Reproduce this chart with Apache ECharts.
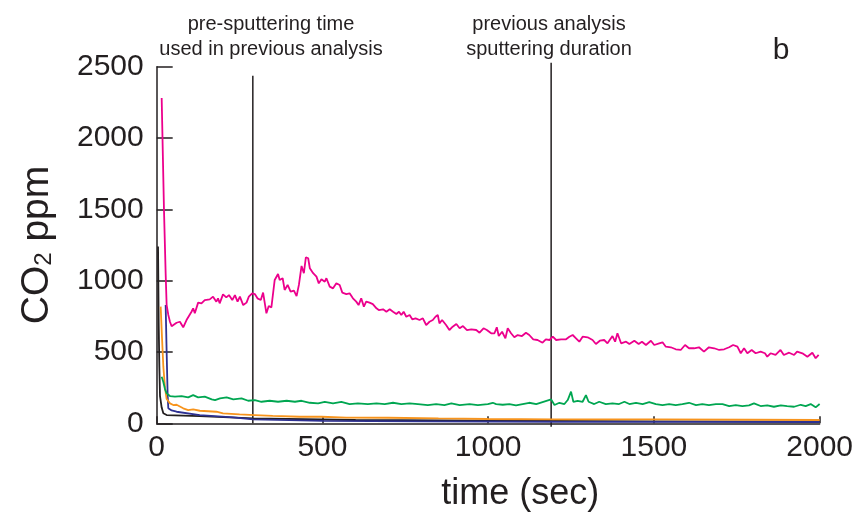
<!DOCTYPE html>
<html>
<head>
<meta charset="utf-8">
<script src="https://cdn.jsdelivr.net/npm/echarts@6/dist/echarts.min.js"></script>
<style>html,body{margin:0;padding:0;background:#fff}#c{width:856px;height:519px}</style>
</head>
<body>
<div id="c"></div>
<script>
const xTicks = [0, 500, 1000, 1500, 2000];
const yTicks = [0, 500, 1000, 1500, 2000, 2500];
const markerTimes = [290, 1190];
const markerTops = [2437, 2527];
const markerBottoms = [0, -24];
const annotations = ['pre-sputtering time\nused in previous analysis', 'previous analysis\nsputtering duration'];
const panelLabel = 'b';

const magenta = [[15,2280],[22,1494],[27,1050],[30,829],[35,760],[40,712],[45,680],[50,677],[60,705],[70,712],[80,673],[90,724],[105,782],[110,806],[115,771],[125,846],[135,841],[145,864],[160,869],[170,888],[180,853],[185,876],[190,841],[200,904],[210,883],[218,899],[228,864],[236,899],[244,853],[251,888],[261,829],[271,846],[278,888],[288,911],[296,906],[304,876],[314,864],[321,916],[331,771],[338,822],[346,813],[356,1005],[366,1047],[371,1005],[380,1017],[386,935],[395,970],[404,923],[414,930],[422,892],[429,970],[437,1103],[444,1052],[450,1164],[457,1157],[462,1087],[472,1052],[482,1028],[489,981],[497,1010],[507,993],[512,1017],[522,958],[532,946],[542,981],[552,970],[560,916],[572,906],[582,911],[592,876],[602,853],[609,829],[617,876],[625,818],[632,853],[642,846],[652,836],[663,806],[670,794],[683,799],[693,782],[703,799],[713,782],[723,766],[731,782],[738,759],[745,782],[753,747],[763,759],[771,729],[781,736],[793,724],[803,736],[813,689],[823,712],[833,724],[841,747],[848,759],[853,701],[861,724],[873,689],[883,654],[893,677],[904,696],[914,666],[924,682],[936,654],[949,659],[964,654],[974,635],[986,666],[996,654],[1009,631],[1019,631],[1026,673],[1032,612],[1042,642],[1052,596],[1059,666],[1069,631],[1079,603],[1089,619],[1102,612],[1114,635],[1124,619],[1136,589],[1149,584],[1164,565],[1174,589],[1185,584],[1195,607],[1205,584],[1220,589],[1235,589],[1245,607],[1255,619],[1265,596],[1275,572],[1285,607],[1300,603],[1315,584],[1325,556],[1337,579],[1350,584],[1360,561],[1375,612],[1383,572],[1390,631],[1401,561],[1416,572],[1426,556],[1441,579],[1454,556],[1464,572],[1476,549],[1491,579],[1501,549],[1516,561],[1526,568],[1536,537],[1551,533],[1566,519],[1581,514],[1594,549],[1606,526],[1621,526],[1636,533],[1651,502],[1666,533],[1682,526],[1697,514],[1712,519],[1727,533],[1739,549],[1752,537],[1762,491],[1772,526],[1782,491],[1795,514],[1807,491],[1822,502],[1835,491],[1842,467],[1852,491],[1867,479],[1882,514],[1892,479],[1908,495],[1923,479],[1932,502],[1948,491],[1963,467],[1978,495],[1988,456],[1997,479]];

const green = [[15,327],[20,290],[25,240],[30,210],[40,191],[55,187],[75,191],[95,182],[110,198],[125,182],[145,187],[166,168],[176,163],[191,175],[211,182],[231,168],[256,175],[276,158],[296,163],[316,151],[341,158],[366,151],[392,158],[417,151],[437,158],[462,144],[487,140],[507,151],[532,140],[557,151],[582,135],[607,140],[637,135],[663,140],[688,135],[713,144],[738,135],[763,140],[788,135],[818,128],[843,135],[868,128],[889,140],[914,128],[944,135],[969,128],[999,135],[1014,144],[1024,135],[1044,130],[1064,135],[1084,126],[1104,135],[1124,144],[1145,135],[1164,149],[1190,168],[1200,128],[1215,144],[1230,135],[1240,163],[1250,222],[1257,151],[1270,158],[1285,151],[1295,198],[1303,151],[1320,135],[1335,151],[1355,135],[1375,140],[1395,135],[1411,151],[1426,135],[1446,144],[1466,135],[1486,149],[1506,135],[1526,128],[1546,135],[1566,128],[1586,135],[1606,144],[1627,128],[1646,135],[1666,128],[1687,135],[1707,135],[1727,121],[1747,128],[1767,121],[1787,126],[1802,140],[1822,121],[1842,126],[1862,116],[1883,126],[1902,121],[1923,116],[1943,130],[1958,121],[1973,135],[1988,112],[2000,135]];

const orange = [[12,818],[16,600],[20,397],[25,250],[30,170],[40,140],[50,128],[60,130],[80,105],[95,93],[110,98],[130,88],[180,81],[200,70],[250,62],[296,58],[350,52],[432,46],[497,46],[572,40],[698,39],[850,34],[999,30],[1200,28],[1500,27],[1800,25],[2000,23]];

const blue = [[27,830],[30,500],[33,200],[35,105],[45,90],[60,81],[130,58],[231,42],[291,28],[400,22],[500,17],[800,14],[1200,11],[1600,10],[2000,9]];

const black = [[4,1240],[6,700],[8,400],[10,190],[15,110],[20,70],[30,58],[130,51],[291,35],[600,23],[1000,18],[1500,14],[2000,12]];

const INK = '#231f20';
const FONT = '"Liberation Sans", Arial, sans-serif';

function lineSeries(name, data, color) {
  return { name, type: 'line', data, showSymbol: false, symbol: 'none',
    lineStyle: { color, width: 1.8 }, z: 3, animation: false };
}

const markerSeries = markerTimes.map((t, i) => ({
  type: 'line', data: [[t, markerBottoms[i]], [t, markerTops[i]]], showSymbol: false, symbol: 'none',
  clip: false, lineStyle: { color: INK, width: 1.5 }, z: 2, animation: false
}));

const chart = echarts.init(document.getElementById('c'), null, { renderer: 'canvas' });
chart.setOption({
  animation: false,
  backgroundColor: '#fff',
  grid: { left: 156.7, right: 35.3, top: 66.7, bottom: 95.7 },
  xAxis: {
    type: 'value', min: xTicks[0], max: xTicks[xTicks.length - 1], interval: 500,
    name: 'time (sec)', nameLocation: 'middle', nameGap: 53,
    nameTextStyle: { fontFamily: FONT, fontSize: 36, color: INK, padding: [0, 0, 0, 64] },
    axisLine: { lineStyle: { color: INK, width: 1.5 } },
    axisTick: { inside: true, length: 7, lineStyle: { color: INK, width: 1.5 } },
    axisLabel: { fontFamily: FONT, fontSize: 30, color: INK, margin: 9, formatter: v => String(v) },
    splitLine: { show: false }
  },
  yAxis: {
    type: 'value', min: yTicks[0], max: yTicks[yTicks.length - 1], interval: 500,
    name: '{a|CO}{b|2}{a| ppm}', nameLocation: 'middle', nameGap: 100,
    nameTextStyle: { fontFamily: FONT, color: INK,
      rich: { a: { fontFamily: FONT, fontSize: 39, color: INK, lineHeight: 42, verticalAlign: 'bottom' },
              b: { fontFamily: FONT, fontSize: 24, color: INK, lineHeight: 42, verticalAlign: 'bottom' } } },
    axisLine: { show: true, lineStyle: { color: INK, width: 1.5 } },
    axisTick: { inside: true, length: 16, lineStyle: { color: INK, width: 1.5 } },
    axisLabel: { fontFamily: FONT, fontSize: 30, color: INK, margin: 13, formatter: v => String(v) },
    splitLine: { show: false }
  },
  graphic: [
    { type: 'text', style: { text: annotations[0], fontFamily: FONT, fontSize: 20, fill: INK, align: 'center', lineHeight: 25 }, x: 271, y: 12, z: 10 },
    { type: 'text', style: { text: annotations[1], fontFamily: FONT, fontSize: 20, fill: INK, align: 'center', lineHeight: 25 }, x: 549, y: 12, z: 10 },
    { type: 'text', style: { text: panelLabel, fontFamily: FONT, fontSize: 30, fill: INK, align: 'center' }, x: 781, y: 36, z: 10 }
  ],
  series: [
    ...markerSeries,
    lineSeries('black', black, INK),
    lineSeries('blue', blue, '#2e3192'),
    lineSeries('orange', orange, '#f7941d'),
    lineSeries('green', green, '#00a651'),
    lineSeries('magenta', magenta, '#ec008c')
  ]
});
</script>
</body>
</html>
